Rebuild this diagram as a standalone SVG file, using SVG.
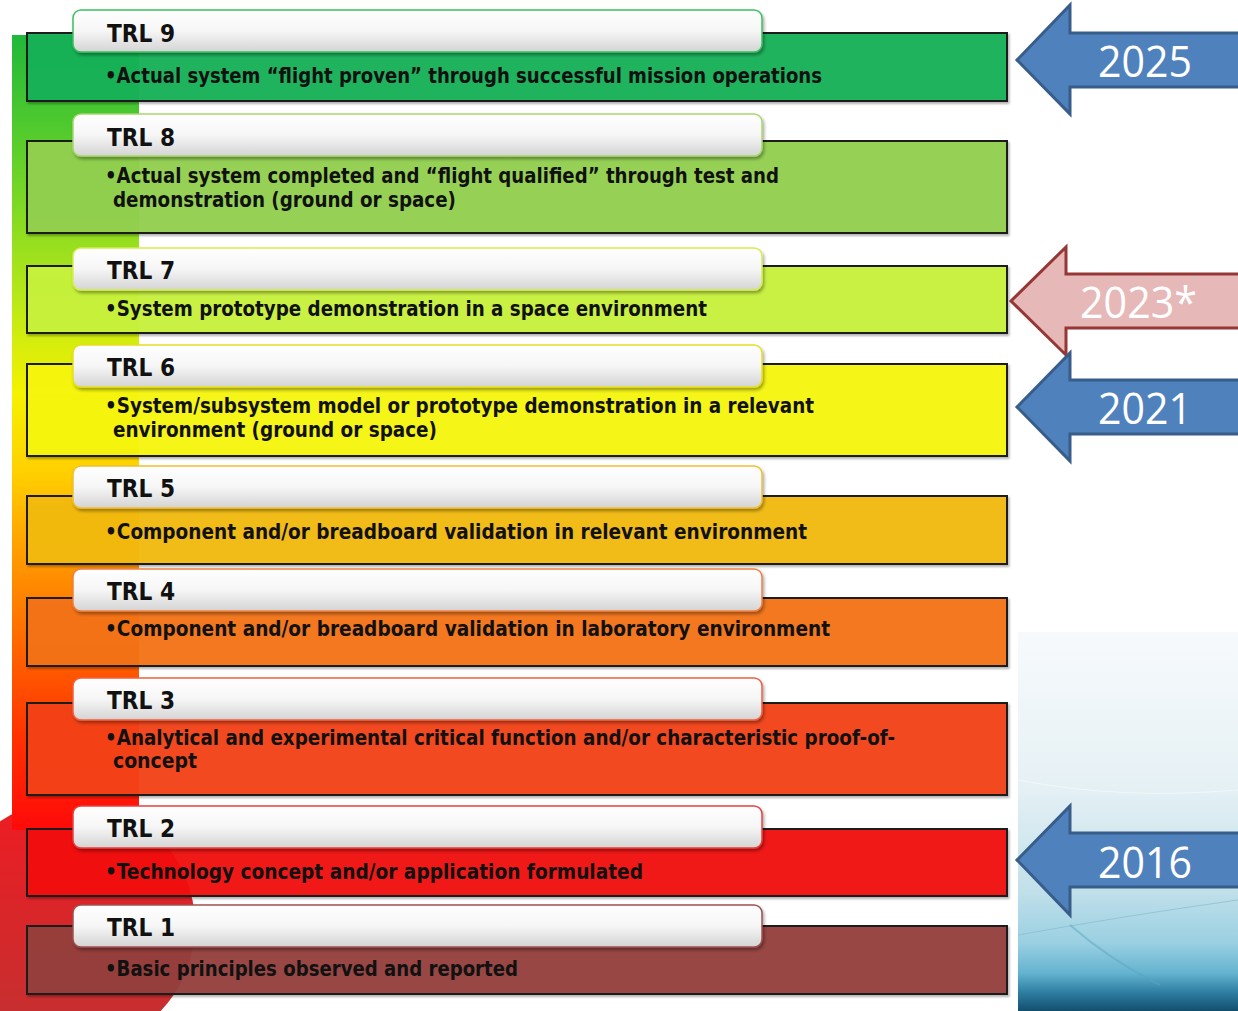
<svg xmlns="http://www.w3.org/2000/svg" width="1238" height="1011" viewBox="0 0 1238 1011">
<defs>
<linearGradient id="bar" x1="0" y1="35" x2="0" y2="830" gradientUnits="userSpaceOnUse">
<stop offset="0" stop-color="#1fb83a"/>
<stop offset="0.15" stop-color="#5fcf2a"/>
<stop offset="0.33" stop-color="#b8e818"/>
<stop offset="0.45" stop-color="#f5f200"/>
<stop offset="0.55" stop-color="#ffd000"/>
<stop offset="0.65" stop-color="#ff9d00"/>
<stop offset="0.76" stop-color="#ff6a00"/>
<stop offset="0.88" stop-color="#ff3300"/>
<stop offset="1" stop-color="#ff0a0a"/>
</linearGradient>
<linearGradient id="circ" x1="0" y1="800" x2="0" y2="1050" gradientUnits="userSpaceOnUse">
<stop offset="0" stop-color="#ee1c22"/>
<stop offset="1" stop-color="#c03232"/>
</linearGradient>
<linearGradient id="tab" x1="0" y1="0" x2="0" y2="1">
<stop offset="0" stop-color="#ffffff"/>
<stop offset="0.5" stop-color="#f6f6f6"/>
<stop offset="1" stop-color="#d4d4d4"/>
</linearGradient>
<linearGradient id="sky" x1="0" y1="632" x2="0" y2="1011" gradientUnits="userSpaceOnUse">
<stop offset="0" stop-color="#f7fafc"/>
<stop offset="0.4" stop-color="#e6f1f5"/>
<stop offset="0.68" stop-color="#c2e0ea"/>
<stop offset="0.82" stop-color="#9ad0e2"/>
<stop offset="0.9" stop-color="#64b3cf"/>
<stop offset="0.95" stop-color="#2f7fa3"/>
<stop offset="1" stop-color="#124e6e"/>
</linearGradient>
<filter id="sh" x="-5%" y="-20%" width="110%" height="150%">
<feDropShadow dx="1.5" dy="2.5" stdDeviation="1.8" flood-color="#000" flood-opacity="0.35"/>
</filter>
<filter id="bsh" x="-2%" y="-10%" width="104%" height="125%">
<feDropShadow dx="1.5" dy="2" stdDeviation="1.2" flood-color="#000" flood-opacity="0.3"/>
</filter>
<style>
.box{stroke:#1e1e1e;stroke-width:2;fill-opacity:0.94;filter:url(#bsh)}
.tab{fill:url(#tab);stroke-width:1.5;filter:url(#sh)}
.lbl{font-family:"DejaVu Sans Condensed","DejaVu Sans",sans-serif;font-weight:bold;font-size:25px;fill:#111}
.dsc{font-family:"DejaVu Sans Condensed","DejaVu Sans",sans-serif;font-weight:bold;font-size:21.5px;fill:#111}
.yr{font-family:"Open Sans","Noto Sans",sans-serif;font-size:44px;fill:#fff}
.blue{fill:#4f81bd;stroke:#385d8a;stroke-width:3;stroke-linejoin:miter}
.pink{fill:#e6b9b8;stroke:#953735;stroke-width:3;stroke-linejoin:miter}
</style>
</defs>
<rect width="1238" height="1011" fill="#ffffff"/>
<g id="background">
<circle cx="70" cy="925" r="125" fill="url(#circ)"/>
<rect x="12" y="35" width="127" height="795" fill="url(#bar)"/>
<rect x="1018" y="632" width="220" height="379" fill="url(#sky)"/>
<path d="M1018 780 Q1120 800 1238 790" fill="none" stroke="#ffffff" stroke-opacity="0.5" stroke-width="1"/>
<path d="M1018 935 Q1130 915 1238 900" fill="none" stroke="#7fb8cc" stroke-opacity="0.6" stroke-width="1"/>
<path d="M1070 925 Q1110 960 1160 985" fill="none" stroke="#5aa6c2" stroke-opacity="0.5" stroke-width="2"/>
</g>
<g id="trl9">
<rect class="box" x="27" y="33" width="980" height="68" fill="#13b157"/>
<rect class="tab" x="73" y="10" width="689" height="42" rx="8" stroke="#3cc060"/>
<text class="lbl" x="107" y="42" textLength="68" lengthAdjust="spacingAndGlyphs">TRL 9</text>
<text class="dsc" x="105" y="83" textLength="717" lengthAdjust="spacingAndGlyphs">•Actual system “flight proven” through successful mission operations</text>
</g>
<g id="trl8">
<rect class="box" x="27" y="141" width="980" height="92" fill="#92d050"/>
<rect class="tab" x="73" y="114" width="689" height="42" rx="8" stroke="#a6d86c"/>
<text class="lbl" x="107" y="146" textLength="68" lengthAdjust="spacingAndGlyphs">TRL 8</text>
<text class="dsc" x="105" y="183" textLength="674" lengthAdjust="spacingAndGlyphs">•Actual system completed and “flight qualified” through test and</text>
<text class="dsc" x="113" y="207" textLength="343" lengthAdjust="spacingAndGlyphs">demonstration (ground or space)</text>
</g>
<g id="trl7">
<rect class="box" x="27" y="266" width="980" height="67" fill="#c8f23c"/>
<rect class="tab" x="73" y="248" width="689" height="42" rx="8" stroke="#d4f04c"/>
<text class="lbl" x="107" y="279" textLength="68" lengthAdjust="spacingAndGlyphs">TRL 7</text>
<text class="dsc" x="105" y="316" textLength="602" lengthAdjust="spacingAndGlyphs">•System prototype demonstration in a space environment</text>
</g>
<g id="trl6">
<rect class="box" x="27" y="364" width="980" height="92" fill="#f6f60e"/>
<rect class="tab" x="73" y="345" width="689" height="42" rx="8" stroke="#e6e020"/>
<text class="lbl" x="107" y="376" textLength="68" lengthAdjust="spacingAndGlyphs">TRL 6</text>
<text class="dsc" x="105" y="413" textLength="709" lengthAdjust="spacingAndGlyphs">•System/subsystem model or prototype demonstration in a relevant</text>
<text class="dsc" x="113" y="437" textLength="324" lengthAdjust="spacingAndGlyphs">environment (ground or space)</text>
</g>
<g id="trl5">
<rect class="box" x="27" y="496" width="980" height="68" fill="#f3bb12"/>
<rect class="tab" x="73" y="466" width="689" height="42" rx="8" stroke="#f0c030"/>
<text class="lbl" x="107" y="497" textLength="68" lengthAdjust="spacingAndGlyphs">TRL 5</text>
<text class="dsc" x="105" y="539" textLength="702" lengthAdjust="spacingAndGlyphs">•Component and/or breadboard validation in relevant environment</text>
</g>
<g id="trl4">
<rect class="box" x="27" y="598" width="980" height="68" fill="#f47318"/>
<rect class="tab" x="73" y="569" width="689" height="42" rx="8" stroke="#f08040"/>
<text class="lbl" x="107" y="600" textLength="68" lengthAdjust="spacingAndGlyphs">TRL 4</text>
<text class="dsc" x="105" y="636" textLength="725" lengthAdjust="spacingAndGlyphs">•Component and/or breadboard validation in laboratory environment</text>
</g>
<g id="trl3">
<rect class="box" x="27" y="703" width="980" height="92" fill="#f4411a"/>
<rect class="tab" x="73" y="678" width="689" height="42" rx="8" stroke="#f06040"/>
<text class="lbl" x="107" y="709" textLength="68" lengthAdjust="spacingAndGlyphs">TRL 3</text>
<text class="dsc" x="105" y="745" textLength="790" lengthAdjust="spacingAndGlyphs">•Analytical and experimental critical function and/or characteristic proof-of-</text>
<text class="dsc" x="113" y="768" textLength="84" lengthAdjust="spacingAndGlyphs">concept</text>
</g>
<g id="trl2">
<rect class="box" x="27" y="829" width="980" height="67" fill="#f21010"/>
<rect class="tab" x="73" y="806" width="689" height="42" rx="8" stroke="#e84040"/>
<text class="lbl" x="107" y="837" textLength="68" lengthAdjust="spacingAndGlyphs">TRL 2</text>
<text class="dsc" x="105" y="879" textLength="538" lengthAdjust="spacingAndGlyphs">•Technology concept and/or application formulated</text>
</g>
<g id="trl1">
<rect class="box" x="27" y="926" width="980" height="68" fill="#953f3e"/>
<rect class="tab" x="73" y="905" width="689" height="42" rx="8" stroke="#a05050"/>
<text class="lbl" x="107" y="936" textLength="68" lengthAdjust="spacingAndGlyphs">TRL 1</text>
<text class="dsc" x="105" y="976" textLength="413" lengthAdjust="spacingAndGlyphs">•Basic principles observed and reported</text>
</g>
<g id="connectors">
<g id="arrow2025">
<path class="blue" d="M1017 60 L1070 5 L1070 33 L1242 33 L1242 87 L1070 87 L1070 114 Z"/>
<text class="yr" x="1098" y="77" textLength="94" lengthAdjust="spacingAndGlyphs">2025</text>
</g>
<g id="arrow2023">
<path class="pink" d="M1011 301 L1066 247 L1066 274 L1242 274 L1242 328 L1066 328 L1066 355 Z"/>
<text class="yr" x="1080" y="318" textLength="117" lengthAdjust="spacingAndGlyphs">2023*</text>
</g>
<g id="arrow2021">
<path class="blue" d="M1017 407 L1070 353 L1070 380 L1242 380 L1242 434 L1070 434 L1070 461 Z"/>
<text class="yr" x="1098" y="424" textLength="94" lengthAdjust="spacingAndGlyphs">2021</text>
</g>
<g id="arrow2016">
<path class="blue" d="M1017 860 L1070 806 L1070 833 L1242 833 L1242 887 L1070 887 L1070 915 Z"/>
<text class="yr" x="1098" y="878" textLength="94" lengthAdjust="spacingAndGlyphs">2016</text>
</g>
</g>
</svg>
